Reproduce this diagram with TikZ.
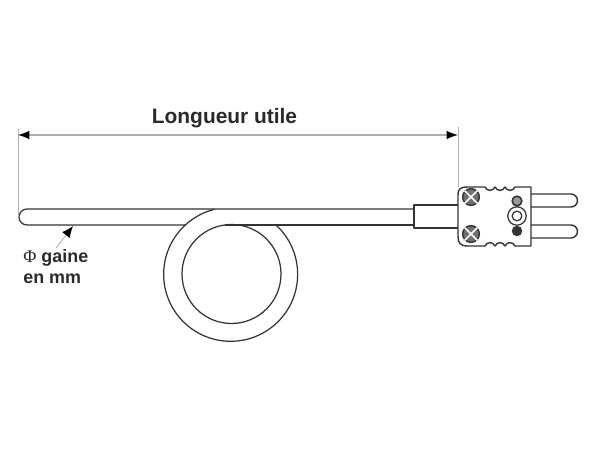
\documentclass[tikz,border=0pt]{standalone}
\usepackage{fontspec}
\setmainfont{Liberation Sans}
\newfontfamily\phifont{Liberation Serif}
\usetikzlibrary{arrows.meta}
\definecolor{trait}{HTML}{333333}
\definecolor{cote}{HTML}{B0B0B0}
\definecolor{texte}{HTML}{2A2A2A}
\tikzset{
  tube/.style={draw=trait, line width=0.7pt, line join=round},
  corps/.style={draw=trait, line width=0.8pt, line join=round},
  rappel/.style={draw=cote, line width=0.5pt},
  cote/.style={draw=cote, line width=0.7pt, {Latex[length=6.5pt,width=5pt,black]}-{Latex[length=6.5pt,width=5pt,black]}},
  fleche/.style={draw=cote, line width=0.5pt, -{Latex[length=6.5pt,width=5.5pt,black]}},
  etiquette/.style={inner sep=0pt, text=texte, font=\bfseries},
  vis/.style={circle, draw=trait, fill=trait!70, line width=0.8pt, minimum size=9.5pt, inner sep=0pt},
  rond/.style={circle, draw=trait, inner sep=0pt}
}
\begin{document}
\begin{tikzpicture}[x=0.02cm, y=0.02cm]
    \useasboundingbox (0,0) rectangle (600,450);

    % Points de repere
    \coordinate (G) at (18,315);
    \coordinate (D) at (458,315);
    \coordinate (Gt) at (18,321);
    \coordinate (Dt) at (458,323);
    \coordinate (Gb) at (18,233);
    \coordinate (Db) at (458,263);
    \coordinate (P) at (73,224);
    \coordinate (Q) at (56,202);

    % Gaine
    \draw[tube] (415,241) -- (27,241) arc[start angle=90, end angle=270, radius=8] -- (186,225);
    \draw[tube] (225,225) -- (415,225);
    \draw[tube] (276,225) arc[start angle=47.4, end angle=-256, radius=67];
    \draw[tube] (231.5,176) circle[radius=49.5];

    % Manchon
    \draw[corps] (458,245) -- (414,245) -- (414,222) -- (458,222);

    % Connecteur
    \draw[corps] (531,263) -- (515,263)
        foreach \i in {0,1,2} { .. controls ({515-\i*10-2},258.5) and ({515-\i*10-8},258.5) .. ({515-\i*10-10},263) }
        -- (468,263) .. controls (460,263) and (458,261) .. (458,255)
        -- (458,214) .. controls (458,207) and (460,204) .. (468,204)
        -- (485,204)
        foreach \i in {0,1,2} { .. controls ({485+\i*10+2},208.5) and ({485+\i*10+8},208.5) .. ({485+\i*10+10},204) }
        -- (531,204) -- cycle;

    % Broches
    \draw[corps] (531,256) -- (571,256) arc[start angle=90, end angle=-90, radius=6.5] -- (531,243);
    \draw[corps] (531,225) -- (571,225) arc[start angle=90, end angle=-90, radius=6.5] -- (531,212);

    % Vis
    \node[vis] (V1) at (471,253) {};
    \node[vis] (V2) at (471,216) {};
    \draw[white, line width=1pt] (V1.north west) -- (V1.south east) (V1.north east) -- (V1.south west);
    \draw[white, line width=1pt] (V2.north west) -- (V2.south east) (V2.north east) -- (V2.south west);
    \node[rond, line width=0.9pt, minimum size=5.5pt, fill=trait!50] (C1) at (517,249) {};
    \node[rond, fill=trait, minimum size=5.5pt] (C2) at (517,219) {};
    \node[rond, line width=0.7pt, minimum size=10.5pt] (C3) at (517,234) {};
    \node[rond, line width=0.7pt, minimum size=5.5pt] (C4) at (517,234) {};

    % Cotes
    \draw[rappel] (Gt) -- (Gb);
    \draw[rappel] (Dt) -- (Db);
    \draw[cote] (G) -- (D);
    \draw[fleche] (Q) -- (P);

    % Textes
    \node[etiquette, font=\bfseries\fontsize{11.9}{14}\selectfont] (titre) at (224.5,331.5) {Longueur utile};
    \node[etiquette, anchor=base west, font=\bfseries\fontsize{10.2}{12}\selectfont] (gaine) at (23,187) {{\phifont\mdseries Φ} gaine};
    \node[etiquette, anchor=base west, font=\bfseries\fontsize{10.2}{12}\selectfont] (mm) at (23,166) {en mm};
\end{tikzpicture}
\end{document}
